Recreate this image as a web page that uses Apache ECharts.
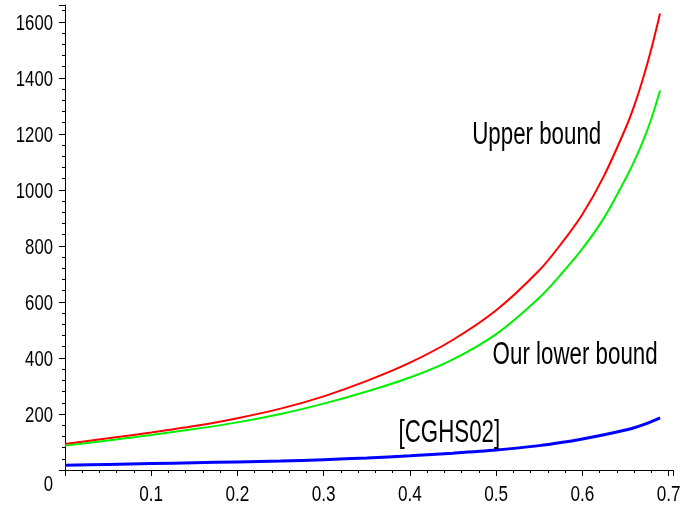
<!DOCTYPE html>
<html>
<head>
<meta charset="utf-8">
<script src="https://cdn.jsdelivr.net/npm/echarts@6/dist/echarts.min.js"></script>
<style>
html,body{margin:0;padding:0;background:#fff;}
#chart{width:687px;height:514px;}
</style>
</head>
<body>
<div id="chart"></div>
<script>
// x positions
var xValues = [0, 0.05, 0.1, 0.15, 0.2, 0.25, 0.3, 0.35, 0.4, 0.45, 0.5, 0.55, 0.575, 0.6, 0.625, 0.65, 0.66, 0.67, 0.68, 0.69];
// Upper bound (red)
var upperBound = [93, 113, 134, 157, 185, 219, 263, 318, 383, 465, 570, 713, 806, 913, 1050, 1220, 1300, 1395, 1505, 1630];
// Our lower bound (green)
var ourLowerBound = [87, 105, 125, 146, 170, 200, 237, 280, 330, 395, 485, 615, 698, 790, 900, 1040, 1102, 1172, 1255, 1355];
// [CGHS02] (blue)
var cghs02 = [17, 20, 23, 26, 29, 32, 37, 43, 51, 60, 71, 87, 98, 111, 126, 143, 151, 161, 173, 186];

var yTickLabels = [0, 200, 400, 600, 800, 1000, 1200, 1400, 1600];
var xTickLabels = [0.1, 0.2, 0.3, 0.4, 0.5, 0.6, 0.7];

// text annotations placed at data coordinates
var annotationTexts = ['Upper bound', 'Our lower bound', '[CGHS02]'];
var annotationX = [0.547, 0.5915, 0.4457];
var annotationY = [1194, 410, 130];

var FONT = "'Liberation Sans', Arial, sans-serif";

function pairs(ys) {
  return xValues.map(function (x, i) { return [x, ys[i]]; });
}

var chart = echarts.init(document.getElementById('chart'), null, {renderer: 'canvas'});

var option = {
  animation: false,
  backgroundColor: '#ffffff',
  grid: {left: 65, right: 14, top: 5, bottom: 44, containLabel: false},
  xAxis: {
    type: 'value',
    min: 0, max: 0.705, interval: 0.1,
    axisLine: {onZero: false, lineStyle: {color: '#000', width: 1}},
    axisTick: {show: true, inside: false, length: 6, lineStyle: {color: '#000'}},
    minorTick: {show: true, splitNumber: 5, length: 3, lineStyle: {color: '#000'}},
    splitLine: {show: false},
    axisLabel: {show: false}
  },
  yAxis: {
    type: 'value',
    min: 0, max: 1660, interval: 200,
    axisLine: {show: true, onZero: false, lineStyle: {color: '#000', width: 1}},
    axisTick: {show: true, length: 6, lineStyle: {color: '#000'}},
    minorTick: {show: true, splitNumber: 5, length: 3, lineStyle: {color: '#000'}},
    splitLine: {show: false},
    axisLabel: {show: false}
  },
  series: [
    {name: 'Upper bound', type: 'line', data: pairs(upperBound), smooth: 0.3, showSymbol: false,
     lineStyle: {color: '#ff0000', width: 2}, z: 3},
    {name: 'Our lower bound', type: 'line', data: pairs(ourLowerBound), smooth: 0.3, showSymbol: false,
     lineStyle: {color: '#00f000', width: 2}, z: 3},
    {name: '[CGHS02]', type: 'line', data: pairs(cghs02), smooth: 0.3, showSymbol: false,
     lineStyle: {color: '#0000ff', width: 3}, z: 3}
  ]
};
chart.setOption(option);

var graphics = [];
// y tick labels (narrow, tall text like the reference)
yTickLabels.forEach(function (v) {
  var p = chart.convertToPixel({gridIndex: 0}, [0, v]);
  graphics.push({
    type: 'text', x: p[0] - 12, y: p[1] + (v === 0 ? 15 : 2), scaleX: 0.76, z: 10,
    style: {text: String(v), fill: '#000', font: '22px ' + FONT, textAlign: 'right', textVerticalAlign: 'middle'}
  });
});
// x tick labels
xTickLabels.forEach(function (v) {
  var p = chart.convertToPixel({gridIndex: 0}, [v, 0]);
  graphics.push({
    type: 'text', x: p[0], y: p[1] + 25, scaleX: 0.78, z: 10,
    style: {text: String(v), fill: '#000', font: '22px ' + FONT, textAlign: 'center', textVerticalAlign: 'middle'}
  });
});
// annotations
annotationTexts.forEach(function (t, i) {
  var p = chart.convertToPixel({gridIndex: 0}, [annotationX[i], annotationY[i]]);
  graphics.push({
    type: 'text', x: p[0], y: p[1], scaleX: 0.72, z: 10,
    style: {text: t, fill: '#000', font: '31px ' + FONT, textAlign: 'center', textVerticalAlign: 'middle'}
  });
});
chart.setOption({graphic: graphics});
</script>
</body>
</html>
